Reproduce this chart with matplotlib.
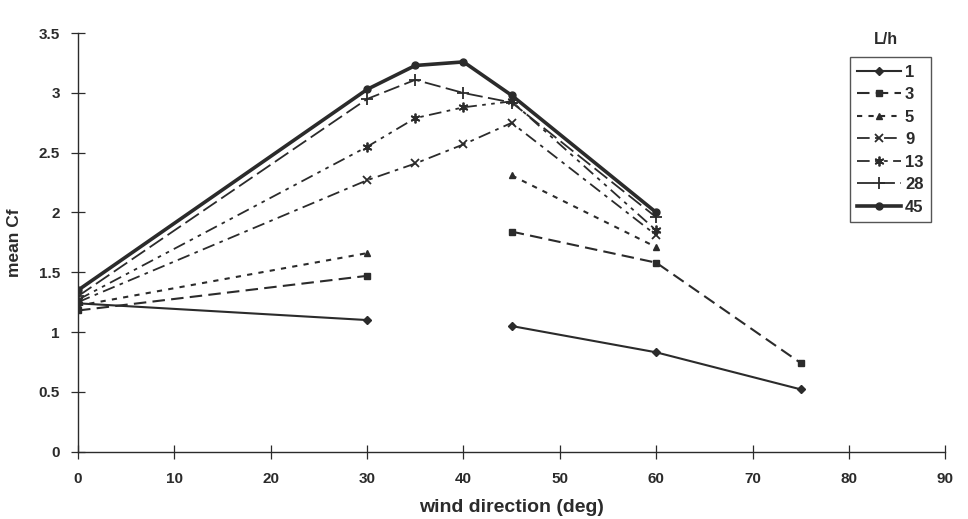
import numpy as np
import matplotlib.pyplot as plt

plt.rcParams['font.family'] = ['Liberation Sans', 'DejaVu Sans']
plt.rcParams['font.weight'] = 'bold'

wind_dir = [0, 30, 35, 40, 45, 60, 75]
nan = np.nan

cf_1 = [1.24, 1.10, nan, nan, 1.05, 0.83, 0.52]
cf_3 = [1.18, 1.47, nan, nan, 1.84, 1.58, 0.74]
cf_5 = [1.22, 1.66, nan, nan, 2.31, 1.71, nan]
cf_9 = [1.25, 2.27, 2.41, 2.57, 2.75, 1.81, nan]
cf_13 = [1.27, 2.55, 2.79, 2.88, 2.93, 1.85, nan]
cf_28 = [1.30, 2.95, 3.11, 3.00, 2.92, 1.96, nan]
cf_45 = [1.35, 3.03, 3.23, 3.26, 2.98, 2.00, nan]

labels = ['1', '3', '5', '9', '13', '28', '45']
series = [cf_1, cf_3, cf_5, cf_9, cf_13, cf_28, cf_45]

styles = [
    dict(ls='-', marker='D', ms=4, lw=1.5),
    dict(ls=(0, (6, 3)), marker='s', ms=5, lw=1.5),
    dict(ls=(0, (2.5, 3)), marker='^', ms=5, lw=1.5),
    dict(ls=(0, (7, 3, 2, 3)), marker='x', ms=6, lw=1.3, mew=1.3),
    dict(ls=(0, (7, 3, 2, 3, 2, 3)), marker=(6, 2, 0), ms=7, lw=1.3, mew=1.3),
    dict(ls=(0, (9, 3)), marker='+', ms=8, lw=1.3, mew=1.3),
    dict(ls='-', marker='o', ms=5, lw=2.6),
]

col = '#2b2b2b'

fig = plt.figure(figsize=(9.68, 5.19), dpi=100)
ax = fig.add_axes([0.0806, 0.13, 0.896, 0.806])

x = np.array(wind_dir, dtype=float)
for lab, y, st in zip(labels, series, styles):
    ax.plot(x, np.array(y, dtype=float), color=col, label=lab, **st)

ax.set_xlim(0, 90)
ax.set_ylim(0, 3.5)
ax.set_xticks(range(0, 91, 10))
ax.set_yticks(np.arange(0, 3.51, 0.5))
ax.set_yticklabels(['0', '0.5', '1', '1.5', '2', '2.5', '3', '3.5'])
ax.spines['top'].set_visible(False)
ax.spines['right'].set_visible(False)
for s in ['left', 'bottom']:
    ax.spines[s].set_color(col)
    ax.spines[s].set_linewidth(1.0)
ax.tick_params(direction='inout', length=10, width=0.9, colors=col, labelsize=11, pad=8)
ax.tick_params(axis='x', pad=10)

ax.set_xlabel('wind direction (deg)', fontsize=14, fontweight='bold', color=col, labelpad=9)
ax.set_ylabel('mean Cf', fontsize=12.5, fontweight='bold', color=col, labelpad=12)

leg = fig.legend(loc='upper left', bbox_to_anchor=(0.878, 0.89), borderaxespad=0,
                 frameon=True, fancybox=False, edgecolor=col, fontsize=12,
                 handlelength=2.6, labelspacing=0.45, handletextpad=0.25, borderpad=0.45)
leg.get_frame().set_linewidth(1.0)
for t in leg.get_texts():
    t.set_color(col)
fig.text(0.915, 0.915, 'L/h', fontsize=11.5, fontweight='bold', color=col, ha='center')

fig.savefig('out.png', dpi=100)
